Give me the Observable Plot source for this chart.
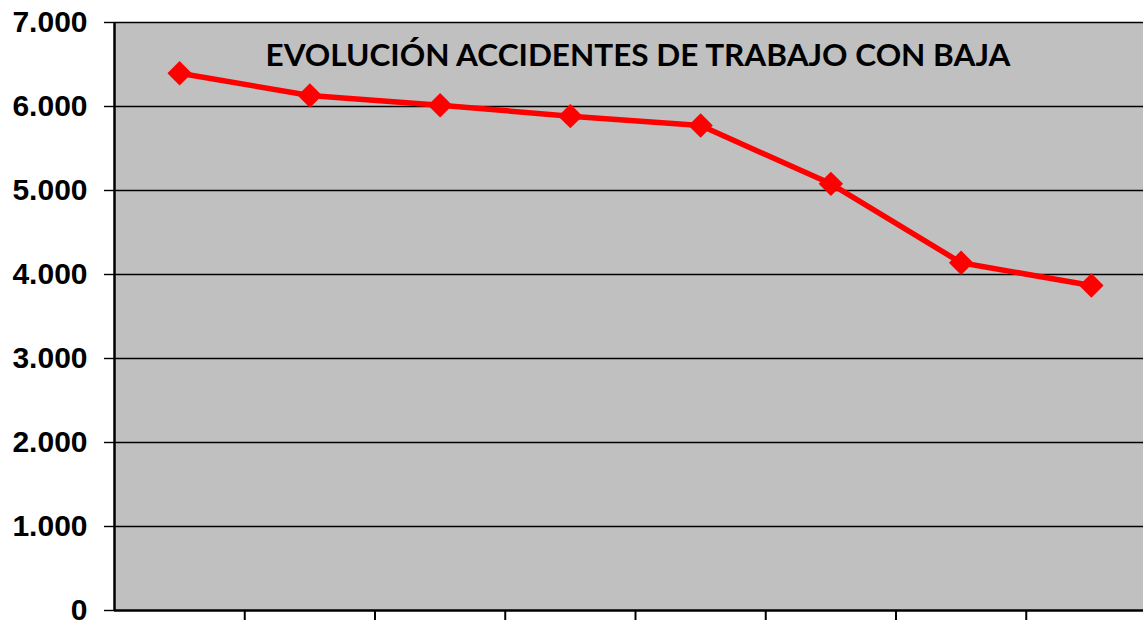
<!DOCTYPE html>
<html>
<head>
<meta charset="utf-8">
<script src="https://cdn.jsdelivr.net/npm/d3@7"></script>
<script src="https://cdn.jsdelivr.net/npm/@observablehq/plot@0.6"></script>
<style>
  html, body { margin: 0; padding: 0; background: #ffffff; overflow: hidden; }
</style>
</head>
<body>
<div id="chart"></div>
<script>
const title = "EVOLUCIÓN ACCIDENTES DE TRABAJO CON BAJA";
const categories = ["1", "2", "3", "4", "5", "6", "7", "8"];
const accidentes = [6396, 6131, 6015, 5885, 5774, 5079, 4139, 3869];
const yTicks = [0, 1000, 2000, 3000, 4000, 5000, 6000, 7000];

const data = categories.map((c, i) => ({cat: c, idx: i + 0.5, value: accidentes[i]}));
const catBoundaries = d3.range(1, categories.length);

const fmt = d => d3.format(",")(d).replace(/,/g, ".");

const chart = Plot.plot({
  width: 1143,
  height: 620,
  marginLeft: 114,
  marginRight: 0,
  marginTop: 22,
  marginBottom: 10,
  style: {
    fontFamily: "'Liberation Sans', Arial, sans-serif",
    fontSize: "30px",
    fontWeight: "bold",
    color: "#000",
    background: "#ffffff",
    overflow: "hidden"
  },
  x: {domain: [0, categories.length], range: [114, 1156], axis: null},
  y: {domain: [0, 7000], axis: null},
  marks: [
    Plot.frame({fill: "#c0c0c0", stroke: null}),
    Plot.ruleY(yTicks.filter(d => d > 0), {stroke: "#000", strokeWidth: 1.4}),
    Plot.axisY({
      ticks: yTicks,
      tickSize: 10,
      tickPadding: 17,
      tickFormat: fmt,
      label: null,
      stroke: "#000",
      strokeWidth: 1.4,
      fill: "#000"
    }),
    Plot.axisX({
      ticks: catBoundaries,
      tickSize: 10,
      tickFormat: () => "",
      label: null,
      stroke: "#000",
      strokeWidth: 2
    }),
    Plot.ruleX([0], {stroke: "#000", strokeWidth: 2.5}),
    Plot.ruleY([0], {stroke: "#000", strokeWidth: 2.5}),
    Plot.line(data, {x: "idx", y: "value", stroke: "#ff0000", strokeWidth: 5.5}),
    Plot.dot(data, {x: "idx", y: "value", symbol: "diamond2", r: 11, fill: "#ff0000", stroke: null}),
    Plot.text([title], {
      text: d => d,
      frameAnchor: "top",
      lineAnchor: "bottom",
      dx: 9,
      dy: 43,
      fontFamily: "Lato, 'Open Sans', sans-serif",
      fontSize: 31,
      fontWeight: "bold",
      fill: "#000"
    })
  ]
});

document.getElementById("chart").appendChild(chart);

d3.select(chart).selectAll("text").each(function() {
  if (this.textContent === title) {
    this.setAttribute("textLength", 745);
    this.setAttribute("lengthAdjust", "spacingAndGlyphs");
  }
});
</script>
</body>
</html>
